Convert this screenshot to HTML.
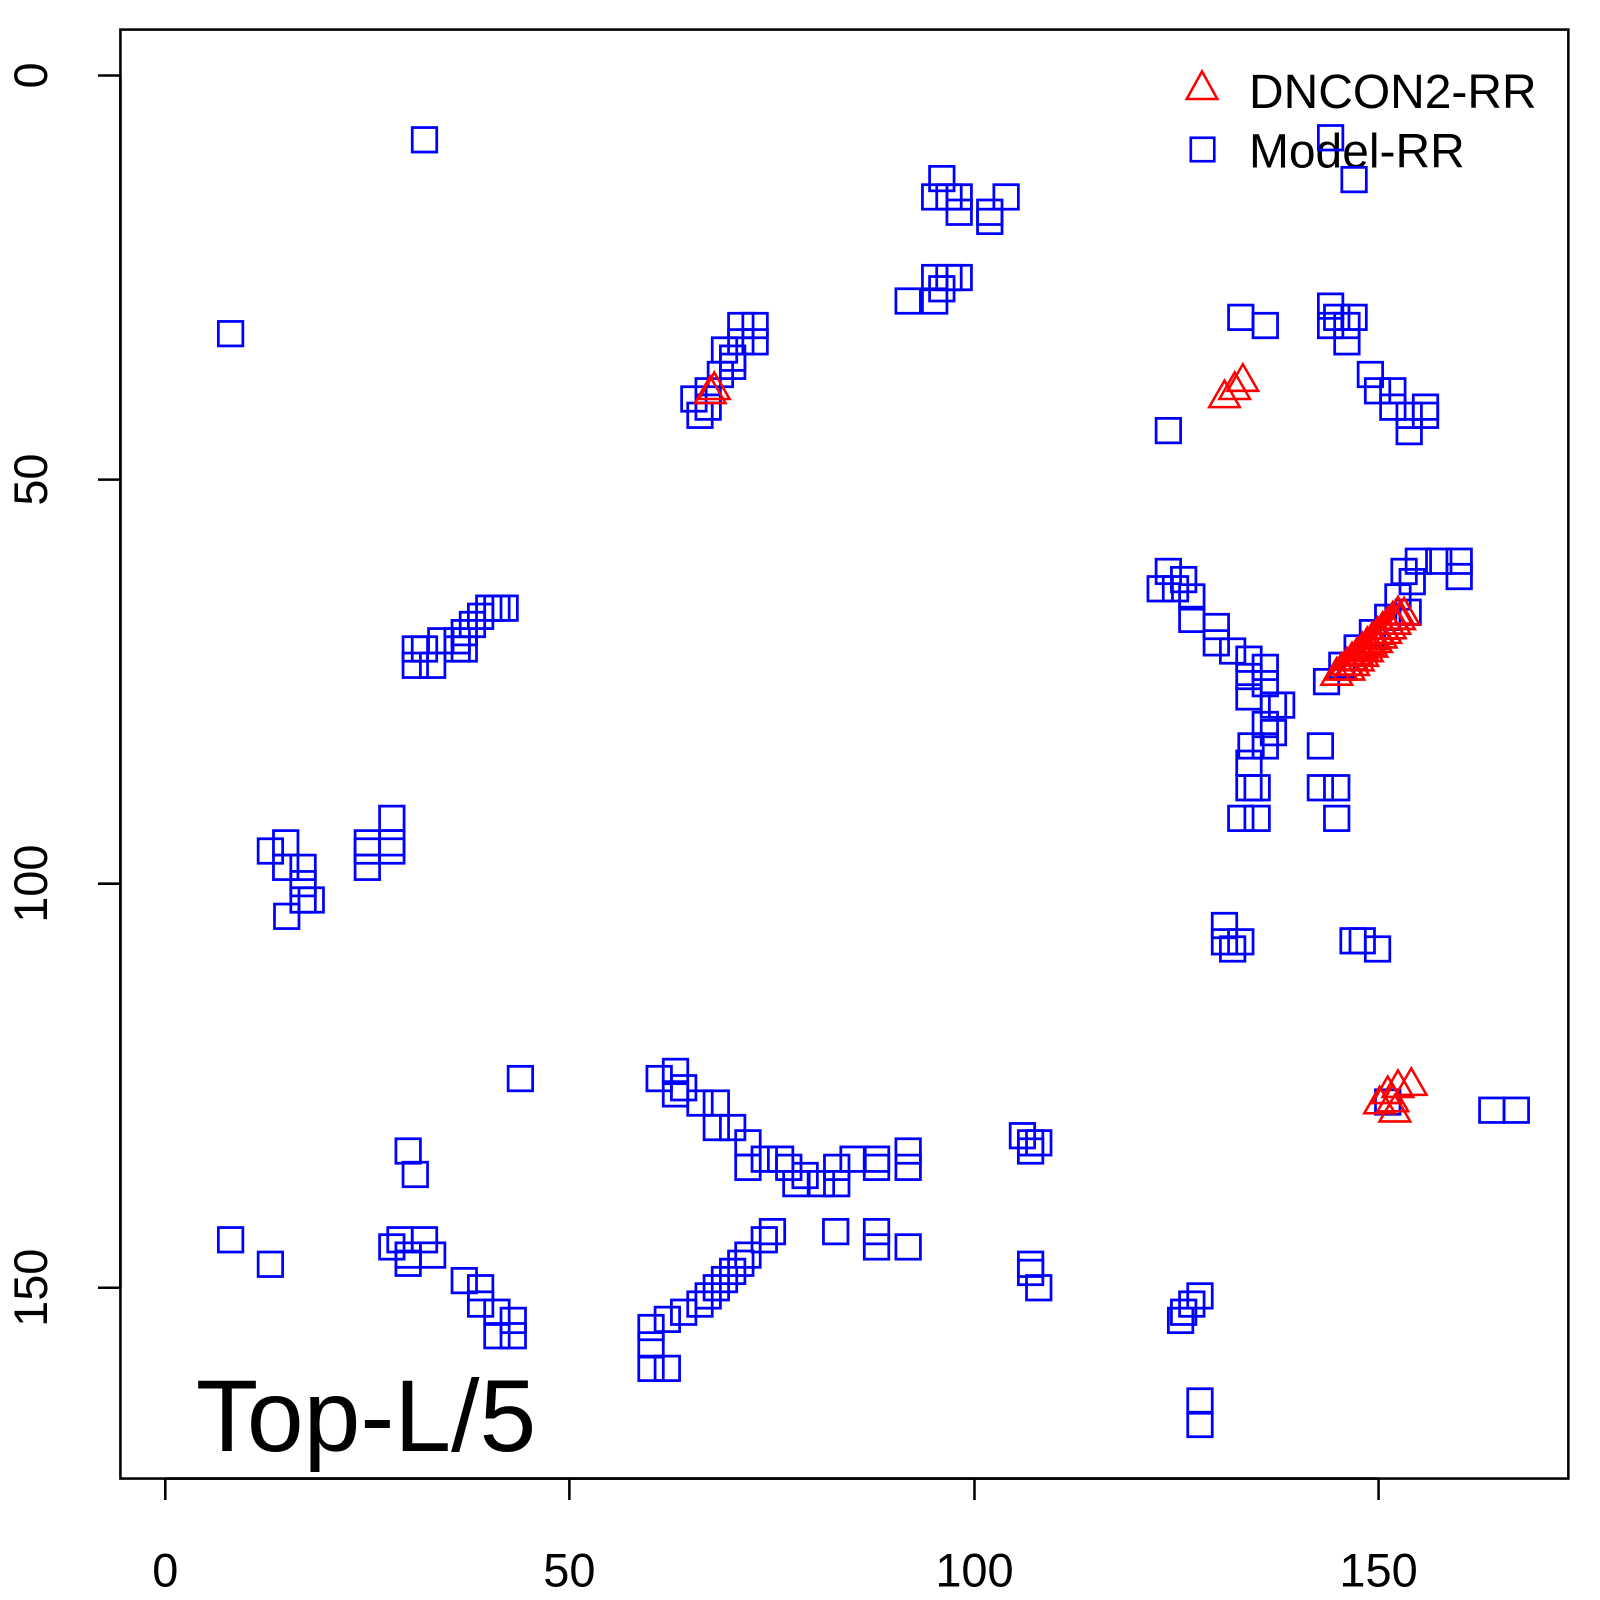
<!DOCTYPE html><html><head><style>body{margin:0;background:#fff}svg{display:block}text{font-family:"Liberation Sans",sans-serif}</style></head><body>
<svg id="s" width="1600" height="1600" xmlns="http://www.w3.org/2000/svg">
<g transform="scale(1.0204)">
<rect x="118" y="29" width="1419" height="1420" fill="none" stroke="#000" stroke-width="2.5"/>
<g stroke="#000" stroke-width="2.5">
<line x1="162" y1="1449" x2="162" y2="1470"/><line x1="558" y1="1449" x2="558" y2="1470"/><line x1="955" y1="1449" x2="955" y2="1470"/><line x1="1351" y1="1449" x2="1351" y2="1470"/>
<line x1="162" y1="1449" x2="1351" y2="1449"/>
<line x1="118" y1="74" x2="96" y2="74"/><line x1="118" y1="470" x2="96" y2="470"/><line x1="118" y1="866" x2="96" y2="866"/><line x1="118" y1="1262" x2="96" y2="1262"/>
<line x1="118" y1="74" x2="118" y2="1262"/>
</g>
<g font-size="46" text-anchor="middle">
<text x="162" y="1555">0</text><text x="558" y="1555">50</text><text x="955" y="1555">100</text><text x="1351" y="1555">150</text>
<text transform="translate(46,74) rotate(-90)">0</text><text transform="translate(46,470) rotate(-90)">50</text><text transform="translate(46,866) rotate(-90)">100</text><text transform="translate(46,1262) rotate(-90)">150</text>
</g>
<text x="192" y="1422" font-size="100">Top-L/5</text>
<polygon points="1178,70 1163,97 1193,97" fill="none" stroke="red" stroke-width="2.5"/>
<rect x="1167" y="135" width="23" height="23" fill="none" stroke="blue" stroke-width="2.6"/>
<text x="1224" y="106" font-size="47">DNCON2-RR</text>
<text x="1224" y="164" font-size="47">Model-RR</text>
<g id="sq" fill="none" stroke="blue" stroke-width="2.7"></g>
<g id="tr" fill="none" stroke="red" stroke-width="2.5"></g>
</g>
</svg>
<script>
var S=[[416,137],[226,327],[1304,135],[1327,176],[923,175],[916,193],[930,193],[940,193],[940,208],[970,208],[970,217],[986,193],[890,295],[916,272],[930,272],[940,272],[916,295],[923,283],[1216,311],[1240,319],[1304,300],[1310,311],[1320,319],[1327,311],[1320,335],[1304,319],[1343,367],[1350,383],[1365,383],[1365,399],[1381,407],[1381,423],[1397,407],[1397,399],[1145,422],[680,391],[686,407],[694,383],[706,367],[718,359],[726,335],[726,319],[740,319],[740,335],[710,343],[694,399],[718,351],[1145,560],[1137,577],[1152,577],[1160,568],[1168,585],[1168,607],[1192,614],[1192,630],[1208,638],[1224,646],[1224,663],[1240,654],[1240,670],[1224,683],[1248,691],[1256,691],[1240,710],[1248,718],[1240,731],[1226,731],[1224,748],[1224,772],[1232,772],[1216,802],[1232,802],[1294,731],[1294,772],[1310,772],[1310,802],[1300,668],[1315,652],[1330,635],[1345,620],[1360,605],[1370,585],[1384,570],[1390,550],[1410,550],[1430,550],[1430,565],[1380,600],[1376,560],[1200,907],[1200,923],[1216,923],[1208,930],[1326,922],[1335,922],[1350,930],[1462,1088],[1486,1088],[1360,1080],[416,636],[407,652],[424,652],[432,628],[448,628],[455,620],[463,612],[471,604],[479,596],[487,596],[495,596],[455,636],[448,636],[407,636],[265,834],[280,826],[280,850],[297,850],[297,866],[297,882],[305,882],[281,898],[360,826],[360,850],[360,834],[384,802],[384,834],[384,826],[510,1057],[400,1128],[407,1151],[226,1215],[265,1239],[384,1222],[392,1215],[400,1230],[416,1215],[424,1230],[400,1238],[455,1255],[471,1262],[471,1278],[487,1286],[503,1294],[487,1309],[503,1309],[646,1057],[662,1050],[662,1072],[670,1066],[686,1081],[702,1081],[702,1105],[718,1105],[733,1120],[733,1144],[749,1136],[765,1136],[780,1160],[773,1144],[789,1152],[805,1160],[820,1160],[820,1144],[836,1136],[859,1136],[859,1144],[890,1128],[890,1144],[1002,1113],[1010,1120],[1018,1120],[1010,1128],[819,1207],[859,1207],[859,1222],[890,1222],[1010,1239],[1010,1247],[1018,1262],[638,1301],[654,1293],[670,1286],[686,1278],[702,1262],[718,1246],[733,1230],[749,1215],[757,1207],[638,1341],[654,1341],[638,1318],[694,1270],[710,1254],[726,1238],[1160,1286],[1168,1278],[1176,1270],[1157,1294],[1176,1373],[1176,1396]];
var T=[[1200,388],[1210,380],[1218,372],[696,384],[700,380],[1360,1070],[1370,1064],[1383,1062],[1367,1088],[1352,1080],[1365,1078]];
for(var i=0;i<=12;i++){T.push([1310+i*5,660-i*5]);T.push([1322+i*4.5,655-i*4.5]);}
var n="http://www.w3.org/2000/svg",g=document.getElementById("sq"),h=document.getElementById("tr");
S.forEach(function(p){var r=document.createElementNS(n,"rect");r.setAttribute("x",p[0]-12);r.setAttribute("y",p[1]-12);r.setAttribute("width",24);r.setAttribute("height",24);g.appendChild(r);});
T.forEach(function(p){var r=document.createElementNS(n,"polygon");var x=p[0],y=p[1];r.setAttribute("points",x+","+(y-15)+" "+(x-15)+","+(y+11)+" "+(x+15)+","+(y+11));h.appendChild(r);});
</script>
</body></html>
